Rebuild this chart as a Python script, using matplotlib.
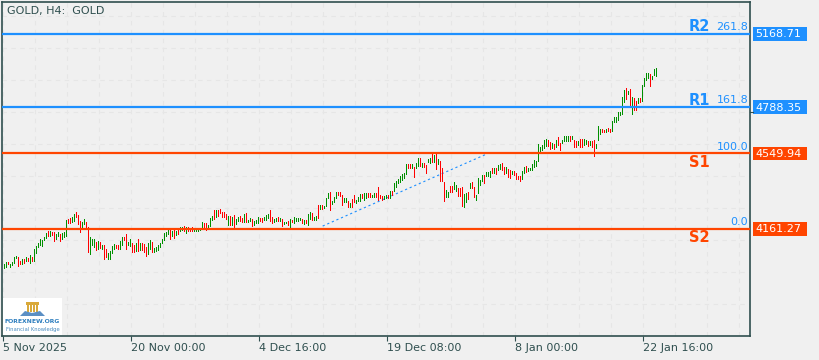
import matplotlib
matplotlib.use('Agg')
import matplotlib.pyplot as plt
from matplotlib.patches import Rectangle, Polygon

# bar high / low, one entry per H4 bar
highs = [3979,3990,3990,3977,3990,4017,4020,4015,3995,4005,
         4005,4014,4010,4026,4014,4055,4074,4089,4108,4105,
         4119,4139,4150,4150,4146,4143,4136,4145,4132,4138,
         4143,4207,4212,4215,4224,4237,4248,4232,4201,4198,
         4212,4198,4169,4120,4107,4108,4095,4098,4091,4077,
         4077,4057,4034,4048,4072,4083,4079,4076,4100,4121,
         4121,4136,4095,4109,4086,4078,4090,4109,4090,4086,
         4081,4069,4086,4103,4095,4060,4069,4078,4090,4107,
         4138,4146,4158,4155,4152,4155,4152,4158,4169,4169,
         4177,4169,4170,4167,4169,4164,4164,4158,4164,4196,
         4191,4191,4183,4215,4227,4258,4258,4258,4263,4248,
         4246,4237,4227,4229,4220,4232,4212,4224,4227,4215,
         4237,4241,4206,4218,4212,4203,4206,4224,4218,4215,
         4224,4234,4237,4258,4220,4212,4217,4222,4217,4212,
         4198,4194,4201,4212,4206,4222,4217,4218,4217,4212,
         4206,4206,4237,4248,4241,4224,4227,4284,4284,4284,
         4279,4322,4346,4351,4305,4327,4349,4351,4351,4336,
         4320,4320,4306,4296,4315,4336,4310,4327,4341,4339,
         4344,4348,4348,4346,4336,4344,4344,4375,4336,4332,
         4330,4334,4336,4356,4356,4396,4410,4420,4432,4442,
         4447,4494,4496,4496,4496,4482,4499,4525,4525,4503,
         4499,4492,4521,4525,4551,4542,4551,4521,4511,4473,
         4404,4361,4352,4382,4382,4401,4387,4373,4370,4375,
         4340,4344,4352,4399,4402,4375,4335,4421,4413,4439,
         4439,4452,4456,4461,4475,4476,4473,4490,4494,4502,
         4478,4478,4470,4464,4461,4461,4449,4433,4435,4461,
         4478,4485,4473,4476,4494,4516,4513,4597,4585,4594,
         4619,4625,4619,4609,4602,4599,4620,4633,4602,4620,
         4640,4640,4640,4640,4640,4620,4615,4615,4625,4623,
         4623,4620,4615,4615,4615,4620,4599,4692,4677,4675,
         4671,4675,4680,4677,4718,4740,4740,4766,4766,4842,
         4878,4888,4875,4881,4840,4835,4821,4838,4835,4904,
         4938,4964,4964,4961,4952,4986,4990]
lows = [3955,3959,3976,3959,3969,3979,4003,3964,3972,3972,
        3979,3988,3988,3979,3988,3988,4031,4064,4074,4069,
        4098,4108,4119,4119,4122,4093,4103,4120,4093,4103,
        4112,4119,4184,4184,4189,4198,4219,4181,4141,4163,
        4181,4163,4036,4026,4072,4064,4046,4052,4057,4052,
        3999,4012,3999,3998,4029,4052,4059,4052,4052,4072,
        4096,4052,4072,4069,4038,4038,4043,4043,4046,4046,
        4038,4017,4026,4052,4038,4038,4043,4048,4060,4081,
        4100,4117,4129,4103,4121,4109,4126,4129,4145,4148,
        4146,4136,4146,4145,4143,4145,4146,4146,4152,4162,
        4165,4150,4162,4172,4200,4207,4215,4224,4239,4217,
        4218,4206,4177,4177,4177,4163,4181,4194,4194,4193,
        4193,4191,4193,4194,4170,4177,4184,4187,4194,4189,
        4201,4203,4212,4198,4187,4191,4194,4194,4194,4172,
        4182,4184,4177,4163,4189,4187,4194,4196,4199,4184,
        4182,4184,4177,4208,4199,4201,4203,4212,4258,4258,
        4261,4275,4313,4255,4284,4296,4315,4330,4327,4280,
        4296,4296,4270,4270,4270,4292,4289,4298,4301,4315,
        4306,4317,4322,4322,4322,4322,4318,4306,4315,4306,
        4310,4313,4315,4315,4332,4353,4373,4392,4399,4410,
        4416,4439,4468,4468,4470,4423,4472,4482,4478,4473,
        4473,4444,4499,4496,4503,4503,4465,4490,4404,4404,
        4299,4320,4320,4347,4347,4361,4352,4327,4327,4271,
        4266,4296,4309,4364,4368,4318,4304,4340,4382,4404,
        4392,4426,4426,4421,4444,4442,4439,4461,4464,4461,
        4439,4444,4421,4418,4439,4435,4413,4413,4404,4413,
        4444,4451,4452,4459,4461,4476,4478,4504,4556,4564,
        4573,4581,4585,4568,4573,4568,4577,4589,4563,4599,
        4608,4611,4609,4608,4620,4578,4578,4589,4578,4578,
        4589,4592,4582,4589,4577,4534,4573,4615,4646,4658,
        4654,4658,4661,4654,4659,4709,4709,4718,4745,4749,
        4813,4826,4852,4792,4749,4770,4770,4804,4809,4818,
        4895,4925,4935,4895,4930,4952,4947]
bar_dir = ("ggrggggrrg" "rgrgrggggg" "ggrgrrggrg" "ggrrggrrrg" "grrgggrgrg"
           "rrggggrrgg" "rrggrrgrgr" "rrggrggggg" "gggrgrgrgg" "rgrrrggggg"
           "rrgggrgrrr" "rrgrgrggrr" "grggrgggrr" "gggrrggrgr" "ggrgrggggr"
           "grggrggrgr" "gggrgggrrr" "ggrgrrgggr" "ggrrggrrrr" "ggrgrggggg"
           "ggrrgrggrg" "rrggrgrgrr" "rggrrggrrr" "ggrgrrgggg" "rgggrgrggr"
           "rgrrgrrrrg" "grgggggggg" "ggrrgrgrrg" "gggrgrrgrr" "ggrgrrgggr"
           "rgrrgggggg" "grgrgrrgrg" "gggrggg")

tick_bars = [0, 64, 128, 192, 256, 320]
tick_labels = ['5 Nov 2025', '20 Nov 00:00', '4 Dec 16:00', '19 Dec 08:00', '8 Jan 00:00', '22 Jan 16:00']

levels = [5168.71, 4788.35, 4549.94, 4161.27]
level_names = ['R2', 'R1', 'S1', 'S2']
level_fibs = ['261.8', '161.8', '100.0', '0.0']
level_colors = ['#1e90ff', '#1e90ff', '#ff4500', '#ff4500']

trend_bars = [160, 242]
trend_prices = [4175, 4547]

grid_prices = [5260.1, 5094.8, 4929.5, 4764.2, 4598.9, 4433.6, 4268.3, 4103.0, 3937.7, 3772.4]

W, H = 820, 360
BG = '#f0f0f0'
DARK = '#2f4f4f'

fig = plt.figure(figsize=(W / 100, H / 100), dpi=100, facecolor=BG)
ax = fig.add_axes([2 / W, 1 - 336 / H, 748 / W, 334 / H], facecolor=BG)
ax.set_xlim(-0.33, 373.67)
ax.set_ylim(3607, 5332.5)

x = list(range(1, len(highs) + 1))
colors = ['#008f00' if d == 'g' else '#ff0000' for d in bar_dir]
heights = [h - l for h, l in zip(highs, lows)]
ax.bar(x, heights, bottom=lows, width=0.5, color=colors, linewidth=0, zorder=3)

# grid
ax.set_xticks(range(0, 374, 16), minor=True)
ax.set_xticks(tick_bars)
ax.set_xticklabels(tick_labels, ha='left', fontsize=8.0, color=DARK)
ax.set_yticks(grid_prices)
ax.set_yticklabels([])
ax.grid(True, which='both', color='#e6e6e6', lw=0.8, ls=(0, (4, 4)), zorder=0)
ax.tick_params(axis='x', which='major', length=3.5, width=0.8, color=DARK, pad=1.5)
ax.tick_params(axis='x', which='minor', length=0)
ax.tick_params(axis='y', length=0)
for s in ax.spines.values():
    s.set_color(DARK)
    s.set_linewidth(1.2)

# the one visible price tick
tr = ax.get_yaxis_transform()
ax.plot([1, 1.004], [4764.2, 4764.2], color=DARK, lw=0.8, transform=tr, clip_on=False)

# trend line
ax.plot(trend_bars, trend_prices, color='#1e90ff', lw=0.8, ls=(0, (2, 2.5)), zorder=2)

for price, name, fib, c in zip(levels, level_names, level_fibs, level_colors):
    ax.axhline(price, color=c, lw=1.6, zorder=4)
    ax.text(0.9975, price + 10, fib, transform=tr, ha='right', va='bottom',
            fontsize=8.0, color='#1e90ff')
    # name sits above the blue lines, below the orange ones
    if c == '#1e90ff':
        ax.text(0.9465, price - 2, name, transform=tr, ha='right', va='bottom',
                fontsize=10.5, fontweight='bold', color=c, zorder=5)
    else:
        ax.text(0.9465, price - 6, name, transform=tr, ha='right', va='top',
                fontsize=10.5, fontweight='bold', color=c, zorder=5)
    ax.add_patch(Rectangle((1.004, price - 36), 0.0722, 72, transform=tr, clip_on=False,
                           facecolor=c, edgecolor='none'))
    ax.text(1.0075, price - 1, '%.2f' % price, transform=tr, ha='left', va='center',
            fontsize=8.0, color='white')

fig.text(7 / W, 1 - 11 / H, 'GOLD, H4:  GOLD', fontsize=8.0, color=DARK, va='center', ha='left')

# logo, pixel placed
def fx(p):
    return p / W
def fy(p):
    return 1 - p / H

fig.add_artist(Rectangle((fx(3), fy(335)), 59 / W, 37 / H, transform=fig.transFigure,
                         facecolor='white', edgecolor='none'))
fig.add_artist(Polygon([(fx(26), fy(305)), (fx(39), fy(305)), (fx(39), fy(302)), (fx(26), fy(302))],
                       transform=fig.transFigure, facecolor='#d9a93a', edgecolor='none'))
for px in [27, 30, 33, 36]:
    fig.add_artist(Rectangle((fx(px), fy(312)), 1.8 / W, 7 / H, transform=fig.transFigure,
                             facecolor='#d9a93a', edgecolor='none'))
fig.add_artist(Polygon([(fx(20), fy(316)), (fx(25), fy(311)), (fx(32), fy(313)), (fx(40), fy(311)),
                        (fx(45), fy(316))], transform=fig.transFigure,
                       facecolor='#5b8fc4', edgecolor='none'))
fig.text(fx(32.5), fy(321.5), 'FOREXNEW.ORG', fontsize=4.4, fontweight='bold', color='#2f7fbf',
         ha='center', va='center')
fig.text(fx(32.5), fy(329), 'Financial Knowledge', fontsize=3.8, color='#4a8cc0',
         ha='center', va='center')

fig.savefig('out.png', dpi=100, facecolor=BG)
